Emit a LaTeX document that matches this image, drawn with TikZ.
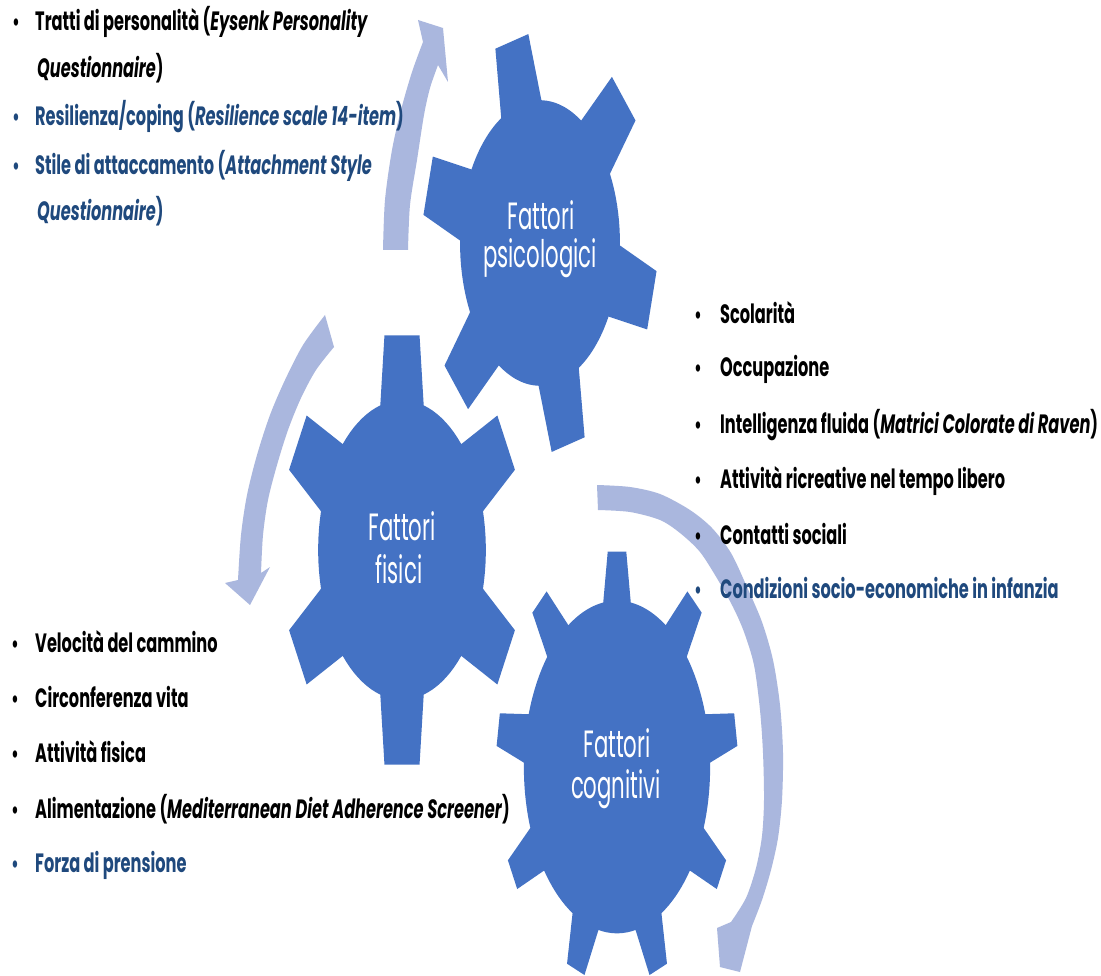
\documentclass[tikz,border=0pt]{standalone}
\usepackage{fontspec}
\newfontfamily\tf[FakeStretch=0.61]{Poppins}
\newfontfamily\lf[FakeStretch=0.56]{Poppins}
\definecolor{gearblue}{HTML}{4472C4}
\definecolor{arrowblue}{RGB}{170,183,222}
\definecolor{txtblue}{HTML}{1F497D}
\tikzset{
  gearfill/.style={fill=gearblue},
  arrowfill/.style={fill=arrowblue},
  itemtext/.style={anchor=base west, inner sep=0pt, text=black, font=\tf\bfseries\fontsize{26.5}{30}\selectfont},
  itemblue/.style={itemtext, text=txtblue},
  bulletmark/.style={anchor=base, inner sep=0pt, text=black, font=\tf\bfseries\fontsize{24}{30}\selectfont},
  bulletblue/.style={bulletmark, text=txtblue},
  geartext/.style={anchor=base, inner sep=0pt, text=white, font=\lf\fontsize{38}{44}\selectfont},
}
% cx cy R N rot rinner tiphalf basehalf
\newcommand\mygear[8]{%
  \begin{scope}[shift={(#1,#2)},xscale=0.56]
    \fill[gearfill] ({#5-#8}:{#6*#3})
      \foreach \k [evaluate=\k as \a using {#5+(\k-1)*360/#4},
                   evaluate=\k as \b using {#5+(\k-1)*360/#4+#8},
                   evaluate=\k as \c using {#5+\k*360/#4-#8}] in {1,...,#4} {
        -- ({\a-#8}:{#6*#3}) -- ({\a-#7}:#3) -- ({\a+#7}:#3) -- ({\a+#8}:{#6*#3})
        -- plot[domain=\b:\c, samples=10, variable=\t] (\t:{#6*#3})
      } -- cycle;
  \end{scope}}
\begin{document}
\begin{tikzpicture}[x=1pt,y=-1pt]
\useasboundingbox[fill=white] (0,0) rectangle (1101,976);

% circular arrows
\fill[arrowfill] plot[smooth] coordinates {(383,250) (385,200) (392,150) (401,110) (412,72) (423,42)}
  -- (418,20) -- (443,28) -- (448,82) -- (438,65)
  -- plot[smooth] coordinates {(438,65) (430,88) (424,115) (417,160) (410,205) (408,250)} -- cycle;

\fill[arrowfill] plot[smooth] coordinates {(325,315) (303,345) (285,380) (270,415) (257,455) (247,495) (241,535) (238,580)}
  -- (225,583) -- (250,605) -- (270,567) -- (261,573)
  -- plot[smooth] coordinates {(261,573) (263,535) (268,500) (277,465) (288,430) (301,398) (316,370) (334,347)} -- cycle;

\fill[arrowfill] plot[smooth] coordinates {(597,485) (630,487) (660,494) (690,510) (712,528) (731,553) (747,587) (762,622) (773,660) (780,705) (783,753) (782,800) (778,838) (771,870) (762,900) (752,926)}
  -- (740,972) -- (720,967) -- (717,928) -- (731,922)
  -- plot[smooth] coordinates {(731,922) (746,898) (756,868) (762,836) (764,800) (763,753) (760,710) (754,665) (744,632) (733,607) (718,580) (700,552) (680,533) (660,520) (630,512) (598,510)} -- cycle;

% gears
\mygear{540}{243}{210}{6}{256}{0.68}{8.3}{15}
\mygear{402}{550}{217}{6}{270}{0.69}{8.3}{15}
\mygear{617}{767}{216}{9}{270}{0.77}{4.4}{8.5}

\node[geartext] (g1a) at (541,230) {Fattori};
\node[geartext] (g1b) at (540,268) {psicologici};
\node[geartext] (g2a) at (402,540) {Fattori};
\node[geartext] (g2b) at (399,583) {fisici};
\node[geartext] (g3a) at (617,757) {Fattori};
\node[geartext] (g3b) at (616,798) {cognitivi};

% top-left list
\node[bulletmark] (b11) at (16,31) {•};
\node[itemtext] (t11) at (35,31) {Tratti di personalità (\textit{Eysenk Personality}};
\node[itemtext] (t11b) at (37,78) {\textit{Questionnaire})};
\node[bulletblue] (b12) at (16,126) {•};
\node[itemblue] (t12) at (35,126) {Resilienza/coping (\textit{Resilience scale 14-item})};
\node[bulletblue] (b13) at (16,175) {•};
\node[itemblue] (t13) at (35,175) {Stile di attaccamento (\textit{Attachment Style}};
\node[itemblue] (t13b) at (37,221) {\textit{Questionnaire})};

% right list
\node[bulletmark] (b21) at (698,324) {•};
\node[itemtext] (t21) at (720,324) {Scolarità};
\node[bulletmark] (b22) at (698,377) {•};
\node[itemtext] (t22) at (720,377) {Occupazione};
\node[bulletmark] (b23) at (698,433) {•};
\node[itemtext] (t23) at (720,433) {Intelligenza fluida (\textit{Matrici Colorate di Raven})};
\node[bulletmark] (b24) at (698,488) {•};
\node[itemtext] (t24) at (720,488) {Attività ricreative nel tempo libero};
\node[bulletmark] (b25) at (698,544) {•};
\node[itemtext] (t25) at (720,544) {Contatti sociali};
\node[bulletblue] (b26) at (698,598) {•};
\node[itemblue] (t26) at (720,598) {Condizioni socio-economiche in infanzia};

% bottom-left list
\node[bulletmark] (b31) at (15,652) {•};
\node[itemtext] (t31) at (35,652) {Velocità del cammino};
\node[bulletmark] (b32) at (15,707) {•};
\node[itemtext] (t32) at (35,707) {Circonferenza vita};
\node[bulletmark] (b33) at (15,762) {•};
\node[itemtext] (t33) at (35,762) {Attività fisica};
\node[bulletmark] (b34) at (15,818) {•};
\node[itemtext] (t34) at (35,818) {Alimentazione (\textit{Mediterranean Diet Adherence Screener})};
\node[bulletblue] (b35) at (15,872) {•};
\node[itemblue] (t35) at (35,872) {Forza di prensione};
\end{tikzpicture}
\end{document}
